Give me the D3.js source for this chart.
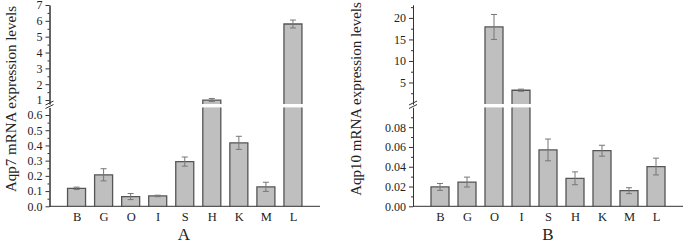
<!DOCTYPE html>
<html>
<head>
<meta charset="utf-8">
<script src="https://cdn.jsdelivr.net/npm/d3@7"></script>
<style>
  body { margin: 0; background: #fff; }
  svg { display: block; font-family: "Liberation Serif", "Times New Roman", serif; }
  .tick text { font-family: "Liberation Serif", "Times New Roman", serif; font-size: 12px; fill: #222; }
  .domain, .tick line { stroke: #333; }
</style>
</head>
<body>
<svg id="chart" width="685" height="244"></svg>
<script>
// data
var tissues = ["B", "G", "O", "I", "S", "H", "K", "M", "L"];
var aqp7Mean = [0.118, 0.207, 0.064, 0.068, 0.294, 1.0, 0.417, 0.128, 5.8];
var aqp7Err = [0.008, 0.04, 0.02, 0.005, 0.03, 0.1, 0.043, 0.03, 0.25];
var aqp10Mean = [0.0196, 0.0245, 17.9, 3.2, 0.057, 0.0283, 0.0562, 0.0158, 0.0402];
var aqp10Err = [0.0035, 0.005, 2.9, 0.25, 0.011, 0.0065, 0.0055, 0.003, 0.0085];

var aqp7LowTicks = [0, 0.1, 0.2, 0.3, 0.4, 0.5, 0.6];
var aqp7LowMinor = [0.05, 0.15, 0.25, 0.35, 0.45, 0.55];
var aqp7HighTicks = [1, 2, 3, 4, 5, 6, 7];
var aqp7HighMinor = [1.5, 2.5, 3.5, 4.5, 5.5, 6.5];
var aqp10LowTicks = [0, 0.02, 0.04, 0.06, 0.08];
var aqp10LowMinor = [0.01, 0.03, 0.05, 0.07, 0.09];
var aqp10HighTicks = [5, 10, 15, 20];
var aqp10HighMinor = [2.5, 7.5, 12.5, 17.5, 22.5];

var svg = d3.select("#chart");

function drawPanel(opt) {
	var g = svg.append("g");
	var x = d3.scalePoint().domain(tissues).range([opt.x0, opt.x1]).padding(1);
	var yLow = d3.scaleLinear().domain(opt.lowDomain).range([206.3, 107.4]);
	var yHigh = d3.scaleLinear().domain(opt.highDomain).range([104, 5]);
	var lowMax = opt.lowDomain[1];
	var bw = 18;

	var rows = tissues.map(function(t, i) {
		return { name: t, v: opt.mean[i], e: opt.err[i] };
	});

	// bars: lower part
	var bars = g.selectAll("g.bar").data(rows).enter().append("g").attr("class", "bar");

	bars.append("rect")
		.attr("x", function(d) { return x(d.name) - bw / 2; })
		.attr("width", bw)
		.attr("y", function(d) { return yLow(Math.min(d.v, lowMax)); })
		.attr("height", function(d) { return yLow(0) - yLow(Math.min(d.v, lowMax)); })
		.attr("fill", "#bfbfbf");

	bars.append("path")
		.attr("fill", "none")
		.attr("stroke", "#555")
		.attr("stroke-width", 1.3)
		.attr("d", function(d) {
			var l = x(d.name) - bw / 2, r = l + bw;
			var top = yLow(Math.min(d.v, lowMax)), bot = yLow(0);
			if (d.v <= lowMax) return "M" + l + "," + bot + "V" + top + "H" + r + "V" + bot;
			return "M" + l + "," + bot + "V" + top + "M" + r + "," + top + "V" + bot;
		});

	// bars: upper part
	var tall = bars.filter(function(d) { return d.v > lowMax; });
	tall.append("rect")
		.attr("x", function(d) { return x(d.name) - bw / 2; })
		.attr("width", bw)
		.attr("y", function(d) { return yHigh(d.v); })
		.attr("height", function(d) { return yHigh(opt.highDomain[0]) - yHigh(d.v); })
		.attr("fill", "#bfbfbf");
	tall.append("path")
		.attr("fill", "none")
		.attr("stroke", "#555")
		.attr("stroke-width", 1.3)
		.attr("d", function(d) {
			var l = x(d.name) - bw / 2, r = l + bw;
			var top = yHigh(d.v), bot = yHigh(opt.highDomain[0]);
			return "M" + l + "," + bot + "V" + top + "H" + r + "V" + bot;
		});

	// error bars
	bars.each(function(d) {
		var y = d.v > lowMax ? yHigh : yLow;
		var cx = x(d.name);
		var el = d3.select(this);
		var y1 = y(d.v + d.e), y2 = y(d.v - d.e);
		el.append("line").attr("x1", cx).attr("x2", cx).attr("y1", y1).attr("y2", y2)
			.attr("stroke", "#777").attr("stroke-width", 1);
		[y1, y2].forEach(function(yy) {
			el.append("line").attr("x1", cx - 3).attr("x2", cx + 3).attr("y1", yy).attr("y2", yy)
				.attr("stroke", "#777").attr("stroke-width", 1);
		});
	});

	// y axes
	g.append("g").attr("transform", "translate(" + opt.x0 + ",0)")
		.call(d3.axisLeft(yLow).tickValues(opt.lowTicks).tickFormat(d3.format(opt.lowFmt)).tickSize(4).tickSizeOuter(0));
	g.append("g").attr("transform", "translate(" + opt.x0 + ",0)")
		.call(d3.axisLeft(yLow).tickValues(opt.lowMinor).tickFormat("").tickSize(2).tickSizeOuter(0));
	g.append("g").attr("transform", "translate(" + opt.x0 + ",0)")
		.call(d3.axisLeft(yHigh).tickValues(opt.highTicks).tickFormat(d3.format("d")).tickSize(4).tickSizeOuter(0));
	g.append("g").attr("transform", "translate(" + opt.x0 + ",0)")
		.call(d3.axisLeft(yHigh).tickValues(opt.highMinor).tickFormat("").tickSize(2).tickSizeOuter(0));

	// break marks
	[103, 106.5].forEach(function(yy) {
		g.append("line").attr("x1", opt.x0 - 4).attr("x2", opt.x0 + 4)
			.attr("y1", yy + 2).attr("y2", yy - 2).attr("stroke", "#333").attr("stroke-width", 1);
	});

	// x axis
	var xa = g.append("g").attr("transform", "translate(0,206.3)")
		.call(d3.axisBottom(x).tickSize(0).tickPadding(6).tickSizeOuter(0));
	xa.select(".domain").attr("d", "M" + opt.x0 + ",0H" + opt.x1);
	xa.selectAll(".tick text").style("font-size", "12.5px");

	// titles
	g.append("text")
		.attr("transform", "translate(" + opt.labelX + ",99) rotate(-90)")
		.attr("text-anchor", "middle")
		.style("font-size", "15px")
		.attr("fill", "#222")
		.text(opt.ylabel);
	g.append("text")
		.attr("x", opt.titleX).attr("y", 240)
		.attr("text-anchor", "middle")
		.style("font-size", "17px")
		.attr("fill", "#222")
		.text(opt.title);
}

drawPanel({
	x0: 49.5, x1: 320, labelX: 16,
	mean: aqp7Mean, err: aqp7Err,
	lowDomain: [0, 0.65], highDomain: [0.75, 7],
	lowTicks: aqp7LowTicks, lowMinor: aqp7LowMinor, lowFmt: ".1f",
	highTicks: aqp7HighTicks, highMinor: aqp7HighMinor,
	ylabel: "Aqp7 mRNA expression levels",
	title: "A", titleX: 184
});

drawPanel({
	x0: 413, x1: 683, labelX: 361,
	mean: aqp10Mean, err: aqp10Err,
	lowDomain: [0, 0.1], highDomain: [0, 23],
	lowTicks: aqp10LowTicks, lowMinor: aqp10LowMinor, lowFmt: ".2f",
	highTicks: aqp10HighTicks, highMinor: aqp10HighMinor,
	ylabel: "Aqp10 mRNA expression levels",
	title: "B", titleX: 548
});
</script>
</body>
</html>
